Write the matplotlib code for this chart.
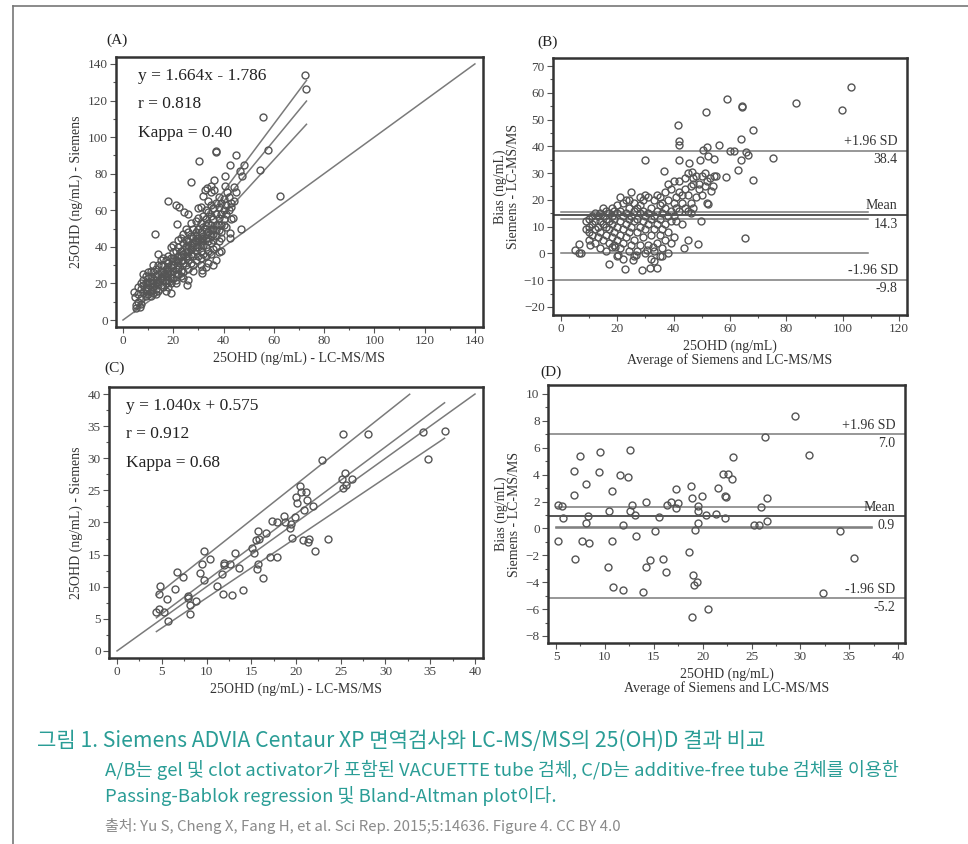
import matplotlib.pyplot as plt
from matplotlib.lines import Line2D
import numpy as np

plt.rcParams['font.family'] = ['Liberation Serif', 'DejaVu Serif']

# ---------- panel A : Siemens vs LC-MS/MS (gel tubes) ----------
a_pts = [
    (72.3, 133.8), (73.0, 126.3), (55.7, 111), (57.7, 92.7), (36.8, 91.6), (36.8, 92.4),
    (45.1, 90.3), (30.1, 87.2), (42.7, 84.9), (48.2, 84.9), (46.4, 81.2), (40.7, 79),
    (47.5, 78.5), (54.4, 81.8), (27.2, 75.7), (36.1, 76.3), (62.4, 68), (17.8, 65.2),
    (21.2, 63), (22.1, 62), (24.4, 59.3), (25.9, 58), (32.5, 71), (33.5, 72), (35, 73),
    (36.1, 71), (40.5, 73), (41.5, 70), (44.2, 72.5), (43.1, 64), (43.8, 55.7),
    (42.7, 47.5), (42.7, 44.7), (46.8, 49.8), (12.6, 46.9), (21.5, 52.4), (19.1, 14.6),
    (25.5, 19.2), (31.6, 25.5), (31.6, 27.3), (4.2, 15.5), (4.6, 12.8), (5.3, 6.4), (6.9, 7.3),
    (5, 8), (6, 10), (6, 14), (7, 12), (7, 17), (7, 20), (8, 15), (8, 19), (8, 22), (8, 25),
    (9, 13), (9, 17), (9, 20), (9, 24), (10, 14), (10, 18), (10, 21), (10, 26), (6, 18), (7, 9),
    (11, 16), (11, 20), (11, 24), (11, 27), (12, 15), (12, 18), (12, 22), (12, 26), (13, 17),
    (13, 20), (13, 24), (13, 28), (14, 16), (14, 21), (14, 25), (14, 30), (15, 19), (15, 23),
    (15, 27), (15, 33), (14, 36), (11, 13), (12, 30), (13, 14),
    (16, 18), (16, 22), (16, 26), (16, 30), (17, 20), (17, 24), (17, 28), (17, 33), (18, 22),
    (18, 27), (18, 31), (18, 35), (19, 20), (19, 25), (19, 29), (19, 34), (19, 40), (20, 23),
    (20, 27), (20, 32), (20, 37), (20, 41), (16, 34), (17, 16), (18, 18),
    (21, 22), (21, 28), (21, 33), (21, 38), (22, 25), (22, 30), (22, 35), (22, 40), (22, 44),
    (23, 27), (23, 32), (23, 38), (23, 45), (24, 26), (24, 31), (24, 36), (24, 42), (24, 47),
    (25, 30), (25, 35), (25, 40), (25, 44), (25, 50), (21, 20), (23, 24), (24, 23),
    (26, 28), (26, 33), (26, 38), (26, 43), (26, 48), (27, 31), (27, 36), (27, 41), (27, 46),
    (27, 53), (28, 30), (28, 35), (28, 40), (28, 45), (28, 50), (29, 33), (29, 38), (29, 43),
    (29, 48), (29, 54), (30, 35), (30, 40), (30, 45), (30, 50), (30, 56), (30, 61), (26, 22),
    (28, 27),
    (31, 34), (31, 38), (31, 43), (31, 48), (31, 53), (31, 62), (32, 36), (32, 41), (32, 46),
    (32, 51), (32, 57), (32, 68), (33, 35), (33, 40), (33, 45), (33, 50), (33, 55), (33, 60),
    (34, 38), (34, 43), (34, 48), (34, 53), (34, 59), (34, 65), (35, 36), (35, 42), (35, 46),
    (35, 52), (35, 57), (35, 63), (35, 70), (33, 29), (34, 31), (31, 30),
    (36, 39), (36, 44), (36, 50), (36, 55), (36, 61), (37, 33), (37, 40), (37, 46), (37, 52),
    (37, 58), (37, 64), (38, 37), (38, 43), (38, 49), (38, 56), (38, 62), (38, 67), (39, 45),
    (39, 52), (39, 58), (39, 64), (40, 55), (40, 60), (40, 66), (36, 30), (39, 38),
    (41, 58), (41, 63), (42, 60), (42, 67), (43, 62), (44, 65), (45, 70), (43, 55), (41, 51),
    (9, 16), (10, 23), (11, 18), (12, 20), (13, 22), (14, 19), (15, 25), (16, 24), (17, 22),
    (18, 25), (19, 23), (20, 30), (21, 25), (22, 28), (23, 35), (24, 33), (25, 37), (26, 35),
    (27, 39), (28, 42), (29, 40), (30, 43), (31, 41), (32, 44), (33, 47), (34, 45), (35, 49),
    (36, 47), (37, 49), (38, 52), (39, 48), (40, 52), (15, 30), (18, 29), (20, 34), (22, 32),
    (26, 41), (29, 46), (31, 45), (33, 52),
]
a_x = [p[0] for p in a_pts]
a_y = [p[1] for p in a_pts]
a_lines = [(1.664, -1.786), (1.838, -3.2), (1.50, -2.5)]   # slope, intercept
a_line_range = (4.5, 73)
a_text = ['y = 1.664x - 1.786', 'r = 0.818', 'Kappa = 0.40']

# ---------- panel B : Bland-Altman (gel tubes) ----------
b_pts = [
    (102.9, 62), (83.4, 56), (99.6, 53.5), (59, 57.7), (64.4, 55), (64.4, 54.6), (51.4, 52.9),
    (41.7, 47.9), (68, 46), (63.8, 42.6), (42, 42), (42, 40.5), (56.2, 40.5), (50.5, 38.8),
    (51.7, 39.8), (60, 38.3), (61.4, 38.3), (65.7, 37.7), (66.5, 36.8), (75.1, 35.8),
    (29.9, 34.8), (42, 35), (49.4, 34.8), (54.3, 35.2), (52.3, 36.5), (63.8, 35), (45.6, 33.6),
    (46.4, 30.5), (63, 31.3), (36.6, 30.9), (58.4, 28.6), (54.3, 29), (68.3, 27.6), (53.1, 23.4),
    (52.3, 18.6), (49.7, 12.2), (65.4, 5.6), (48.8, 3.4), (43.7, 2.2), (45.2, 5), (5.1, 1.2),
    (6.3, 0), (7.1, 0), (6.3, 3.4), (17.2, -4), (22.6, -6), (28.7, -6.3), (31.5, -5.3),
    (34.2, -5.4), (25.7, -2.5), (26.7, -0.7), (30.7, 1.2), (32.8, 2.4), (20.4, -0.7),
    (19.3, 2.4), (18.1, 2.4), (10.4, 3),
    (9, 9), (9, 12), (10, 5), (10, 10), (10, 13), (11, 7), (11, 11), (11, 14), (12, 4), (12, 9),
    (12, 12), (12, 15), (13, 6), (13, 10), (13, 14), (14, 2), (14, 8), (14, 12), (14, 15),
    (15, 5), (15, 11), (15, 14), (15, 17), (10, 8),
    (16, 1), (16, 7), (16, 10), (16, 13), (16, 16), (17, 4), (17, 9), (17, 12), (17, 15),
    (18, 6), (18, 11), (18, 14), (18, 17), (19, 3), (19, 8), (19, 13), (19, 16), (20, -1),
    (20, 5), (20, 10), (20, 15), (20, 18),
    (21, 2), (21, 7), (21, 12), (21, 16), (22, -2), (22, 4), (22, 9), (22, 14), (22, 19),
    (23, 6), (23, 11), (23, 15), (23, 20), (24, 1), (24, 8), (24, 13), (24, 17), (25, 3),
    (25, 10), (25, 14), (25, 23), (21, 21), (24, 20),
    (26, 5), (26, 12), (26, 16), (26, 19), (27, 1), (27, 8), (27, 13), (27, 17), (28, 3),
    (28, 10), (28, 15), (28, 18), (29, 6), (29, 12), (29, 16), (29, 20), (30, 0), (30, 9),
    (30, 14), (30, 22), (26, -1), (28, 21),
    (31, 3), (31, 11), (31, 15), (31, 21), (32, -2), (32, 7), (32, 13), (32, 17), (33, 1),
    (33, 9), (33, 14), (33, 20), (34, 4), (34, 11), (34, 16), (34, 22), (35, -1), (35, 7),
    (35, 13), (35, 18), (35, 21), (33, -3),
    (36, 2), (36, 9), (36, 15), (36, 19), (37, 5), (37, 11), (37, 17), (37, 23), (38, 0),
    (38, 8), (38, 14), (38, 20), (38, 26), (39, 4), (39, 12), (39, 16), (39, 24), (40, 6),
    (40, 14), (40, 19), (40, 27), (36, -1),
    (41, 12), (41, 17), (41, 21), (42, 16), (42, 23), (42, 27), (43, 11), (43, 19), (43, 22),
    (44, 17), (44, 24), (45, 16), (45, 22), (45, 30), (46, 15), (46, 19), (46, 25), (47, 17),
    (47, 28), (48, 21), (48, 29), (49, 24), (49, 26), (50, 22), (50, 29), (51, 25), (51, 30),
    (52, 19), (52, 27), (53, 28), (54, 25), (55, 29), (44, 28), (47, 26),
]
b_x = [p[0] for p in b_pts]
b_y = [p[1] for p in b_pts]
b_mean, b_upper, b_lower = 14.3, 38.4, -9.8
b_mean_ci = (15.5, 13.0)

# ---------- panel C : Siemens vs LC-MS/MS (additive-free) ----------
c_pts = [
    (4.3, 6.1), (4.7, 8.8), (4.8, 10.1), (4.7, 6.45), (5.3, 6.1), (5.6, 8.1), (5.7, 4.6),
    (6.45, 9.7), (6.7, 12.3), (7.4, 11.5), (7.9, 8.5), (7.9, 8.2), (8.1, 5.8), (8.2, 7.2),
    (8.8, 7.8), (9.3, 12.1), (9.5, 13.5), (9.7, 15.6), (9.7, 11.0), (10.4, 14.3), (11.2, 10.1),
    (11.8, 8.9), (11.7, 12.0), (11.9, 13.7), (12.0, 13.4), (12.6, 13.5), (12.9, 8.7),
    (13.2, 15.2), (13.6, 12.9), (14.1, 9.5), (15.1, 16.1), (15.3, 15.2), (15.5, 17.3),
    (15.6, 12.7), (15.8, 13.5), (15.8, 18.7), (15.9, 17.5), (16.3, 11.4), (16.6, 18.4),
    (17.1, 14.7), (17.3, 20.3), (17.9, 14.7), (17.9, 20.0), (18.7, 21.0), (18.8, 20.0),
    (19.3, 19.2), (19.4, 19.8), (19.5, 17.6), (19.9, 20.9), (20.0, 24.0), (20.1, 23.1),
    (20.4, 25.7), (20.6, 24.8), (20.9, 22.0), (20.8, 17.3), (21.1, 24.8), (21.2, 23.5),
    (21.3, 17.0), (21.5, 17.4), (21.9, 22.6), (22.1, 15.5), (22.9, 29.7), (23.6, 17.5),
    (25.1, 26.8), (25.3, 33.7), (25.3, 25.4), (25.5, 27.7), (25.6, 25.9), (26.3, 26.8),
    (28.0, 33.7), (34.2, 34.1), (34.8, 29.9), (36.6, 34.3),
]
c_x = [p[0] for p in c_pts]
c_y = [p[1] for p in c_pts]
c_lines = [(1.040, 0.575, 36.6), (1.106, 3.8, 32.7), (0.935, -1.1, 36.6)]  # slope, intercept, x end
c_text = ['y = 1.040x + 0.575', 'r = 0.912', 'Kappa = 0.68']

# ---------- panel D : Bland-Altman (additive-free) ----------
d_pts = [
    (5.2, 1.76), (5.6, 1.63), (5.75, 0.76), (5.2, -0.97), (6.8, 4.24), (6.8, 2.5), (6.9, -2.27),
    (7.45, 5.36), (7.7, -0.93), (8.1, 3.32), (8.1, 0.39), (8.3, 0.89), (8.4, -1.05), (9.5, 5.65),
    (9.4, 4.16), (10.4, 1.26), (10.35, -2.84), (10.7, 2.75), (10.7, -0.97), (10.8, -4.33),
    (11.5, 3.94), (11.9, 0.22), (11.9, -4.58), (12.4, 3.82), (12.6, 5.85), (12.6, 1.33),
    (12.8, 1.76), (13.1, 0.96), (13.2, -0.6), (13.9, -4.75), (14.2, 1.93), (14.2, -2.84),
    (14.6, -2.34), (15.1, -0.23), (15.5, 0.84), (15.9, -2.29), (16.3, -3.26), (16.4, 1.76),
    (16.8, 2.0), (17.3, 2.92), (17.3, 1.51), (17.5, 1.88), (18.6, -1.77), (18.8, 3.12),
    (18.9, 2.25), (18.9, -6.56), (19.0, -3.46), (19.1, -4.2), (19.4, -3.95), (19.2, -0.11),
    (19.55, 1.63), (19.55, 1.33), (19.55, 0.39), (19.9, 2.38), (20.3, 0.96), (20.6, -6.0),
    (21.4, 1.09), (21.6, 3.0), (22.1, 4.04), (22.3, 2.38), (22.35, 2.3), (22.3, 0.76),
    (22.6, 4.04), (23.0, 3.69), (23.1, 5.28), (25.3, 0.22), (25.75, 0.27), (26.0, 1.58),
    (26.4, 6.8), (26.6, 0.52), (26.6, 2.25), (29.5, 8.34), (30.9, 5.48), (32.3, -4.82),
    (34.1, -0.23), (35.5, -2.17),
]
d_x = [p[0] for p in d_pts]
d_y = [p[1] for p in d_pts]
d_mean, d_upper, d_lower = 0.9, 7.0, -5.2
d_mean_ci = (1.56, 0.1)

pt_color = '#555555'
ln_color = '#7a7a7a'
frame_color = '#333333'

fig = plt.figure(figsize=(9.68, 8.44), dpi=100)


def style_axes(ax, xlim, ylim, xmaj, ymaj, xmin, ymin):
    ax.set_xlim(xlim)
    ax.set_ylim(ylim)
    ax.set_xticks(xmaj)
    ax.set_yticks(ymaj)
    ax.set_xticks(xmin, minor=True)
    ax.set_yticks(ymin, minor=True)
    for s in ax.spines.values():
        s.set_color(frame_color)
        s.set_linewidth(1.8)
    ax.tick_params(which='major', direction='out', length=4, width=0.8, color='#555555',
                   labelsize=9.5, labelcolor='#444444', pad=2)
    ax.tick_params(which='minor', direction='out', length=2.5, width=0.8, color='#555555')
    ax.tick_params(top=False, right=False)


def scatter(ax, x, y):
    ax.plot(x, y, 'o', ms=5, mfc='none', mec=pt_color, mew=1.0, clip_on=False)


# ---- A
axA = fig.add_axes([0.1198, 0.6126, 0.3791, 0.3199])
style_axes(axA, (-2.8, 143.2), (-3.8, 143.8), range(0, 141, 20), range(0, 141, 20),
           range(10, 141, 20), range(10, 141, 20))
axA.plot([0, 140], [0, 140], color=ln_color, lw=1.1)
xs = np.array(a_line_range)
for m, b in a_lines:
    axA.plot(xs, m * xs + b, color=ln_color, lw=1.1)
scatter(axA, a_x, a_y)
for i, t in enumerate(a_text):
    axA.text(0.06, 0.93 - i * 0.105, t, transform=axA.transAxes, fontsize=12.5,
             color='#222222', va='center')
axA.set_xlabel('25OHD (ng/mL) - LC-MS/MS', fontsize=10, color='#333333', labelpad=3)
axA.set_ylabel('25OHD (ng/mL) - Siemens', fontsize=10, color='#333333', labelpad=3)
fig.text(106 / 968, 1 - 40 / 844, '(A)', fontsize=11, color='#222222', va='center')

# ---- B
axB = fig.add_axes([0.5713, 0.6268, 0.3657, 0.3045])
style_axes(axB, (-2.8, 122.8), (-23, 73), range(0, 121, 20), range(-20, 71, 10),
           range(10, 121, 20), range(-15, 71, 10))
for yv in (b_upper, b_lower, b_mean):
    axB.axhline(yv, color='#555555' if yv == b_mean else ln_color, lw=1.4 if yv == b_mean else 1.1)
for yv in b_mean_ci + (0,):
    axB.plot([0, 109], [yv, yv], color=ln_color, lw=1.1)
scatter(axB, b_x, b_y)
for yv, top, bot in ((b_upper, '+1.96 SD', f'{b_upper:.1f}'), (b_mean, 'Mean', f'{b_mean:.1f}'),
                     (b_lower, '-1.96 SD', f'{b_lower:.1f}')):
    axB.text(119.5, yv + 1.0, top, ha='right', va='bottom', fontsize=10, color='#333333')
    axB.text(119.5, yv - 1.0, bot, ha='right', va='top', fontsize=10, color='#333333')
axB.set_xlabel('25OHD (ng/mL)\nAverage of Siemens and LC-MS/MS', fontsize=10,
               color='#333333', labelpad=3, linespacing=1.0)
axB.set_ylabel('Bias (ng/mL)\nSiemens - LC-MS/MS', fontsize=10, color='#333333',
               labelpad=3, linespacing=1.0)
fig.text(537 / 968, 1 - 42 / 844, '(B)', fontsize=11, color='#222222', va='center')

# ---- C
axC = fig.add_axes([0.1126, 0.2204, 0.3864, 0.3211])
style_axes(axC, (-0.9, 40.9), (-1.1, 41.1), range(0, 41, 5), range(0, 41, 5),
           np.arange(2.5, 40, 5), np.arange(2.5, 40, 5))
axC.plot([0, 40], [0, 40], color=ln_color, lw=1.1)
for m, b, xe in c_lines:
    xs = np.array([4.4, xe])
    axC.plot(xs, m * xs + b, color=ln_color, lw=1.1)
scatter(axC, c_x, c_y)
for i, t in enumerate(c_text):
    axC.text(0.045, 0.93 - i * 0.105, t, transform=axC.transAxes, fontsize=12.5,
             color='#222222', va='center')
axC.set_xlabel('25OHD (ng/mL) - LC-MS/MS', fontsize=10, color='#333333', labelpad=3)
axC.set_ylabel('25OHD (ng/mL) - Siemens', fontsize=10, color='#333333', labelpad=3)
fig.text(104 / 968, 1 - 368 / 844, '(C)', fontsize=11, color='#222222', va='center')

# ---- D
axD = fig.add_axes([0.5661, 0.2382, 0.3688, 0.3057])
style_axes(axD, (4.18, 40.7), (-8.52, 10.67), range(5, 41, 5), range(-8, 11, 2),
           np.arange(7.5, 40, 5), range(-7, 10, 2))
for yv in (d_upper, d_lower, d_mean):
    axD.axhline(yv, color='#555555' if yv == d_mean else ln_color, lw=1.4 if yv == d_mean else 1.1)
for yv in d_mean_ci + (0,):
    axD.plot([5, 37.3], [yv, yv], color=ln_color, lw=1.1)
scatter(axD, d_x, d_y)
for yv, top, bot in ((d_upper, '+1.96 SD', f'{d_upper:.1f}'), (d_mean, 'Mean', f'{d_mean:.1f}'),
                     (d_lower, '-1.96 SD', f'{d_lower:.1f}')):
    axD.text(39.7, yv + 0.2, top, ha='right', va='bottom', fontsize=10, color='#333333')
    axD.text(39.7, yv - 0.2, bot, ha='right', va='top', fontsize=10, color='#333333')
axD.set_xlabel('25OHD (ng/mL)\nAverage of Siemens and LC-MS/MS', fontsize=10,
               color='#333333', labelpad=3, linespacing=1.0)
axD.set_ylabel('Bias (ng/mL)\nSiemens - LC-MS/MS', fontsize=10, color='#333333',
               labelpad=3, linespacing=1.0)
fig.text(540 / 968, 1 - 372 / 844, '(D)', fontsize=11, color='#222222', va='center')

# ---- caption
kr = ['Noto Sans CJK KR', 'DejaVu Sans']
teal = '#2a9d96'
fig.text(37 / 968, 1 - 741 / 844, '그림 1. Siemens ADVIA Centaur XP 면역검사와 LC-MS/MS의 25(OH)D 결과 비교',
         family=kr, fontsize=15.2, color=teal, va='center', weight='light')
fig.text(105 / 968, 1 - 770 / 844,
         'A/B는 gel 및 clot activator가 포함된 VACUETTE tube 검체, C/D는 additive-free tube 검체를 이용한',
         family=kr, fontsize=13.3, color=teal, va='center', weight='light')
fig.text(105 / 968, 1 - 796 / 844, 'Passing-Bablok regression 및 Bland-Altman plot이다.',
         family=kr, fontsize=13.3, color=teal, va='center', weight='light')
fig.text(105 / 968, 1 - 826 / 844,
         '출처: Yu S, Cheng X, Fang H, et al. Sci Rep. 2015;5:14636. Figure 4. CC BY 4.0',
         family=kr, fontsize=10.8, color='#8a8a8a', va='center', weight='light')

# outer border lines (left and top)
fig.add_artist(Line2D([13 / 968, 13 / 968], [0, 1 - 6 / 844], color='#777777', lw=1.2))
fig.add_artist(Line2D([13 / 968, 1], [1 - 6 / 844, 1 - 6 / 844], color='#777777', lw=1.2))

fig.savefig('out.png', dpi=100)
